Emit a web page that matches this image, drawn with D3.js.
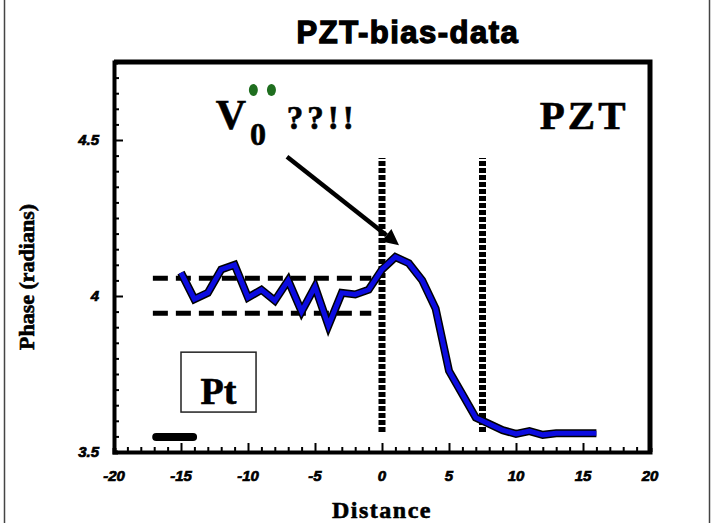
<!DOCTYPE html>
<html>
<head>
<meta charset="utf-8">
<script src="https://cdn.jsdelivr.net/npm/d3@7"></script>
<style>
  body { margin: 0; background: #fff; }
  svg { display: block; }
  .tick-lbl { font-family: "Liberation Sans", Arial, sans-serif; font-weight: bold; font-style: italic; font-size: 15px; stroke: #000; stroke-width: 0.7px; }
  .serif { font-family: "Liberation Serif", "Times New Roman", serif; font-weight: bold; stroke: #000; stroke-width: 0.6px; }
</style>
</head>
<body>
<svg id="chart" width="714" height="523"></svg>
<script>
// distance along the sample and measured phase
const distance = [-15, -14, -13, -12, -11, -10, -9, -8, -7, -6, -5, -4, -3, -2, -1, 0,
                  1, 2, 3, 4, 5, 6, 7, 8, 9, 10, 11, 12, 13, 14, 15, 16];
const phase = [4.075, 3.99, 4.01, 4.085, 4.10, 3.995, 4.02, 3.985, 4.05, 3.95, 4.03, 3.905,
               4.01, 4.005, 4.02, 4.085, 4.125, 4.105, 4.05, 3.96, 3.76, 3.685, 3.61, 3.59,
               3.57, 3.558, 3.567, 3.555, 3.56, 3.56, 3.56, 3.56];

const xTicks = [-20, -15, -10, -5, 0, 5, 10, 15, 20];
const yTicks = [3.5, 4, 4.5];

// band of the Pt side noise, and the interface markers
const bandLevels = [4.057, 3.945];
const bandRange = [-17.1, -0.8];
const interfaces = [0, 7.5];
const interfaceSpan = [3.564, 4.442];

const margin = { left: 114, right: 64, top: 62, bottom: 71 };
const W = 714, H = 523;

const svg = d3.select('#chart');

const x = d3.scaleLinear().domain([-20, 20]).range([margin.left, W - margin.right]);
const y = d3.scaleLinear().domain([3.5, 4.75]).range([H - margin.bottom, margin.top]);

// outer border
svg.append('rect')
    .attr('x', 4.5).attr('y', -3).attr('width', 705).attr('height', H + 6)
    .attr('fill', 'none').attr('stroke', '#444').attr('stroke-width', 1.5);

// title
svg.append('text')
    .attr('x', 408).attr('y', 43)
    .attr('text-anchor', 'middle')
    .style('font-family', '"Liberation Sans", Arial, sans-serif')
    .style('font-weight', 'bold')
    .style('font-size', '31px')
    .style('letter-spacing', '1.5px')
    .style('stroke', '#000').style('stroke-width', '1.3px')
    .text('PZT-bias-data');

// frame top + right
svg.append('path')
    .attr('d', `M${x(-20)},${y(4.75)}H${x(20)}V${y(3.5)}`)
    .attr('fill', 'none').attr('stroke', '#000').attr('stroke-width', 5);

// x axis
const xAxis = d3.axisTop(x).tickValues(d3.range(-20, 21, 1)).tickSize(4).tickFormat('');
const gx = svg.append('g').attr('transform', `translate(0,${y(3.5)})`).call(xAxis);
gx.selectAll('.tick line').attr('stroke-width', 2)
    .attr('y2', d => d % 5 === 0 ? -9 : -5);
gx.select('.domain').attr('stroke-width', 4);

svg.append('g').selectAll('text')
    .data(xTicks).join('text')
    .attr('class', 'tick-lbl')
    .attr('x', d => x(d)).attr('y', y(3.5) + 29)
    .attr('text-anchor', 'middle')
    .text(d => d);

// y axis
const yAxis = d3.axisRight(y).tickValues(d3.range(70, 95, 1).map(v => v / 20)).tickSize(4).tickFormat('');
const gy = svg.append('g').attr('transform', `translate(${x(-20)},0)`).call(yAxis);
gy.selectAll('.tick line').attr('stroke-width', 2)
    .attr('x2', d => Math.abs(d * 2 - Math.round(d * 2)) < 1e-6 ? 9 : 5);
gy.select('.domain').attr('stroke-width', 4);

svg.append('g').selectAll('text')
    .data(yTicks).join('text')
    .attr('class', 'tick-lbl')
    .attr('x', x(-20) - 15).attr('y', d => y(d) + 5)
    .attr('text-anchor', 'end')
    .text(d => d);

// axis titles
svg.append('text')
    .attr('class', 'serif')
    .attr('transform', 'translate(34,277) rotate(-90)')
    .attr('text-anchor', 'middle')
    .style('font-size', '22px')
    .text('Phase (radians)');

svg.append('text')
    .attr('class', 'serif')
    .attr('x', x(0)).attr('y', 518)
    .attr('text-anchor', 'middle')
    .style('font-size', '24px')
    .style('letter-spacing', '1.5px')
    .text('Distance');

// dashed noise band
svg.append('g').selectAll('line')
    .data(bandLevels).join('line')
    .attr('x1', x(bandRange[0])).attr('x2', x(bandRange[1]))
    .attr('y1', d => y(d)).attr('y2', d => y(d))
    .attr('stroke', '#000').attr('stroke-width', 5)
    .attr('stroke-dasharray', '15,8');

// dotted interface lines
svg.append('g').selectAll('line')
    .data(interfaces).join('line')
    .attr('x1', d => x(d)).attr('x2', d => x(d))
    .attr('y1', y(interfaceSpan[0])).attr('y2', y(interfaceSpan[1]))
    .attr('stroke', '#000').attr('stroke-width', 7)
    .attr('stroke-dasharray', '5,2');

// data line: black outline under blue
const pts = distance.map((d, i) => [d, phase[i]]);
const line = d3.line().x(d => x(d[0])).y(d => y(d[1]));
svg.append('path').datum(pts).attr('d', line)
    .attr('fill', 'none').attr('stroke', '#000').attr('stroke-width', 8)
    .attr('stroke-linejoin', 'miter');
svg.append('path').datum(pts).attr('d', line)
    .attr('fill', 'none').attr('stroke', '#0c0ce0').attr('stroke-width', 5)
    .attr('stroke-linejoin', 'miter');

// little black bar at lower left
svg.append('line')
    .attr('x1', x(-16.85)).attr('x2', x(-14.1))
    .attr('y1', y(3.548)).attr('y2', y(3.548))
    .attr('stroke', '#000').attr('stroke-width', 8).attr('stroke-linecap', 'round');

// arrow
const arrowFrom = [-7.09, 4.446], arrowTo = [1.27, 4.163];
const ax1 = x(arrowFrom[0]), ay1 = y(arrowFrom[1]), ax2 = x(arrowTo[0]), ay2 = y(arrowTo[1]);
const ang = Math.atan2(ay2 - ay1, ax2 - ax1);
const headLen = 16, headW = 8;
const bx = ax2 - headLen * Math.cos(ang), by = ay2 - headLen * Math.sin(ang);
svg.append('line')
    .attr('x1', ax1).attr('y1', ay1).attr('x2', bx).attr('y2', by)
    .attr('stroke', '#000').attr('stroke-width', 4.5);
svg.append('path')
    .attr('d', `M${ax2},${ay2}L${bx + headW * Math.sin(ang)},${by - headW * Math.cos(ang)}L${bx - headW * Math.sin(ang)},${by + headW * Math.cos(ang)}Z`)
    .attr('fill', '#000');

// V0 ??!! annotation
svg.append('text').attr('class', 'serif')
    .attr('x', x(-12.4)).attr('y', y(4.536)).style('font-size', '42px').text('V');
svg.append('text').attr('class', 'serif')
    .attr('x', x(-9.85)).attr('y', y(4.485)).style('font-size', '32px').text('0');
svg.append('text').attr('class', 'serif')
    .attr('x', x(-7.1)).attr('y', y(4.536)).style('font-size', '33px')
    .style('letter-spacing', '4px').text('??!!');
svg.append('g').selectAll('ellipse')
    .data([-9.6, -8.25]).join('ellipse')
    .attr('cx', d => x(d)).attr('cy', y(4.66))
    .attr('rx', 4.5).attr('ry', 6)
    .attr('fill', '#1f6e1f');

// PZT label
svg.append('text').attr('class', 'serif')
    .attr('x', x(18.4)).attr('y', y(4.536))
    .attr('text-anchor', 'end')
    .style('font-size', '41px').style('letter-spacing', '3px')
    .text('PZT');

// Pt box
svg.append('rect')
    .attr('x', x(-15)).attr('y', y(3.82)).attr('width', x(-9.4) - x(-15)).attr('height', y(3.628) - y(3.82))
    .attr('fill', '#fff').attr('stroke', '#222').attr('stroke-width', 1.5);
svg.append('text').attr('class', 'serif')
    .attr('x', x(-12.2)).attr('y', y(3.655))
    .attr('text-anchor', 'middle')
    .style('font-size', '38px')
    .text('Pt');
</script>
</body>
</html>
